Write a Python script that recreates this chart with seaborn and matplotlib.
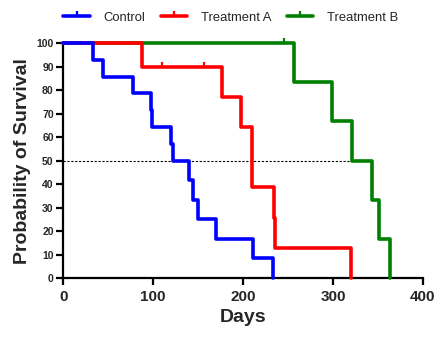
import matplotlib
matplotlib.use("Agg")
import matplotlib.pyplot as plt
from matplotlib.lines import Line2D
import numpy as np
import pandas as pd
import seaborn as sns

# Kaplan-Meier step curves: time (days) at which each level starts, survival (%)
control_days = [0, 33, 44, 77, 97, 99, 120, 122, 140, 144.5, 149.5, 169.5, 210.5, 233.5]
control_surv = [100, 92.86, 85.71, 78.57, 71.43, 64.29, 57.14, 50, 41.67, 33.33, 25, 16.67, 8.33, 0]

treat_a_days = [0, 87, 177, 198, 210, 234, 236, 320]
treat_a_surv = [100, 90, 77.14, 64.29, 38.57, 25.71, 12.86, 0]
treat_a_censor_days = [110, 156]
treat_a_censor_surv = [90, 90]

treat_b_days = [0, 256.5, 298.5, 321.5, 343, 351, 364]
treat_b_surv = [100, 83.33, 66.67, 50, 33.33, 16.67, 0]
treat_b_censor_days = [245]
treat_b_censor_surv = [100]

groups = ["Control", "Treatment A", "Treatment B"]
colors = {"Control": "#0000FF", "Treatment A": "#FF0000", "Treatment B": "#008000"}

median_level = 50
median_end = 321.5

curves = pd.concat([
    pd.DataFrame({"Days": control_days, "Survival": control_surv, "Group": "Control"}),
    pd.DataFrame({"Days": treat_a_days, "Survival": treat_a_surv, "Group": "Treatment A"}),
    pd.DataFrame({"Days": treat_b_days, "Survival": treat_b_surv, "Group": "Treatment B"}),
], ignore_index=True)

censored = pd.concat([
    pd.DataFrame({"Days": treat_a_censor_days, "Survival": treat_a_censor_surv, "Group": "Treatment A"}),
    pd.DataFrame({"Days": treat_b_censor_days, "Survival": treat_b_censor_surv, "Group": "Treatment B"}),
], ignore_index=True)

sns.set_theme(style="ticks")
plt.rcParams["font.family"] = ["Liberation Sans", "DejaVu Sans"]

fig = plt.figure(figsize=(4.4, 3.42), dpi=100)
ax = fig.add_axes([0.144, 0.187, 0.817, 0.687])

# draw back-to-front so Control sits on top; censored subjects get an upward tick
for z, g in zip([3, 4, 5], ["Treatment B", "Treatment A", "Control"]):
    sub = curves[curves["Group"] == g]
    sns.lineplot(data=sub, x="Days", y="Survival", ax=ax, color=colors[g],
                 drawstyle="steps-post", estimator=None, sort=False,
                 linewidth=2.6, zorder=z, clip_on=False, legend=False)
    cs = censored[censored["Group"] == g]
    if len(cs):
        sns.lineplot(data=cs, x="Days", y="Survival", ax=ax, color=colors[g],
                     marker=2, markersize=3.8, markeredgewidth=1.6,
                     markeredgecolor=colors[g], linestyle="none",
                     estimator=None, zorder=z, clip_on=False, legend=False)

ax.hlines(median_level, 0, median_end, colors="black", linestyles=(0, (2, 1.5)),
          linewidth=0.8, zorder=2)

ax.set_xlim(0, 400)
ax.set_ylim(0, 100)
ax.set_xticks(np.arange(0, 401, 100))
ax.set_yticks(np.arange(0, 101, 10))
ax.set_xlabel("Days", fontsize=14, fontweight="bold", labelpad=4)
ax.set_ylabel("Probability of Survival", fontsize=14, fontweight="bold", labelpad=4)
ax.tick_params(axis="x", labelsize=11, width=1.6, length=5, color="black")
ax.tick_params(axis="y", labelsize=7.5, width=1.6, length=5, color="black", pad=2)
for lab in ax.get_xticklabels() + ax.get_yticklabels():
    lab.set_fontweight("bold")
sns.despine(ax=ax)
for s in ["left", "bottom"]:
    ax.spines[s].set_linewidth(1.6)
    ax.spines[s].set_color("black")

handles = [Line2D([0], [0], color=colors[g], linewidth=2.6, marker=2,
                  markersize=3.8, markeredgewidth=1.6) for g in groups]
fig.legend(handles, groups, loc="upper center", bbox_to_anchor=(0.524, 1.0),
           ncol=3, frameon=False, fontsize=9.4, handlelength=2.0,
           columnspacing=1.2, handletextpad=1.05)

fig.savefig("out.png", dpi=100)
